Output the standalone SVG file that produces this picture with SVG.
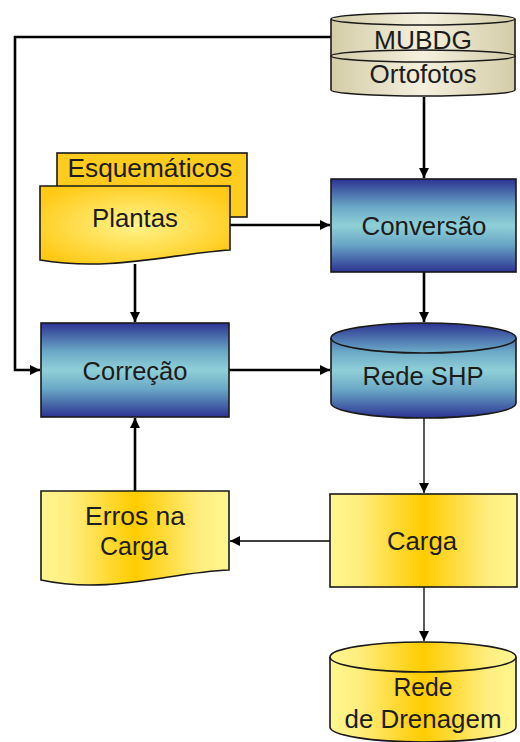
<svg xmlns="http://www.w3.org/2000/svg" width="520" height="742" viewBox="0 0 520 742">
<style>
.s{stroke:#1a1a1a;stroke-width:1.6}
.t{font-family:"Liberation Sans",Arial,sans-serif;font-size:25px;fill:#1c1c1c;text-anchor:middle}
.c{fill:none;stroke:#000}
.thick{stroke-width:2.6}
.thin{stroke-width:1.3}
</style>
<defs>
<linearGradient id="blue" x1="0" y1="0" x2="0" y2="1">
<stop offset="0" stop-color="#2c3392"/>
<stop offset="0.3" stop-color="#6aa8c6"/>
<stop offset="0.5" stop-color="#8fd0d7"/>
<stop offset="0.7" stop-color="#6aa8c6"/>
<stop offset="1" stop-color="#2c3392"/>
</linearGradient>
<linearGradient id="yel" x1="0" y1="0" x2="1" y2="0">
<stop offset="0" stop-color="#fff68e"/>
<stop offset="0.15" stop-color="#ffee80"/>
<stop offset="0.5" stop-color="#ffcc00"/>
<stop offset="0.85" stop-color="#ffee80"/>
<stop offset="1" stop-color="#fff68e"/>
</linearGradient>
<radialGradient id="gold" cx="0.5" cy="0.5" r="0.6">
<stop offset="0" stop-color="#fff48c"/>
<stop offset="1" stop-color="#ffc915"/>
</radialGradient>
<linearGradient id="beige" x1="0" y1="0" x2="1" y2="0">
<stop offset="0" stop-color="#d4cca8"/>
<stop offset="0.5" stop-color="#f4f0de"/>
<stop offset="1" stop-color="#d4cca8"/>
</linearGradient>
<marker id="ah" viewBox="0 0 10 10" refX="10" refY="5" markerWidth="10" markerHeight="10" markerUnits="userSpaceOnUse" orient="auto">
<path d="M0,0 L10,5 L0,10 Z" fill="#000"/>
</marker>
</defs>

<g id="connectors">
<path class="c thick" d="M331,37 H15 V370 H40" marker-end="url(#ah)"/>
<path class="c thick" d="M424,97 V178" marker-end="url(#ah)"/>
<path class="c thick" d="M230,225 H330" marker-end="url(#ah)"/>
<path class="c thick" d="M135,264 V322" marker-end="url(#ah)"/>
<path class="c thick" d="M424,272 V322" marker-end="url(#ah)"/>
<path class="c thick" d="M229,370 H330" marker-end="url(#ah)"/>
<path class="c thin" d="M424,418 V493" marker-end="url(#ah)"/>
<path class="c thin" d="M330,541 H230" marker-end="url(#ah)"/>
<path class="c thick" d="M135,491 V418" marker-end="url(#ah)"/>
<path class="c thin" d="M424,587 V641" marker-end="url(#ah)"/>
</g>

<g id="mubdg">
<path class="s" fill="url(#beige)" d="M331,19 A92,6 0 0,1 515,19 V56 A92,6 0 0,1 331,56 Z"/>
<path class="s" fill="none" d="M331,19 A92,6 0 0,0 515,19"/>
<text class="t" x="423" y="49" textLength="98" lengthAdjust="spacingAndGlyphs">MUBDG</text>
</g>
<g id="ortofotos">
<path class="s" fill="url(#beige)" d="M331,56 A92,6 0 0,1 515,56 V90 A92,6 0 0,1 331,90 Z"/>
<path class="s" fill="none" d="M331,56 A92,6 0 0,0 515,56"/>
<text class="t" x="423" y="83" textLength="107" lengthAdjust="spacingAndGlyphs">Ortofotos</text>
</g>

<g id="esquematicos">
<rect class="s" x="57" y="153" width="190" height="64" fill="#ffcb1f"/>
<text class="t" x="150" y="177" textLength="165" lengthAdjust="spacingAndGlyphs">Esquemáticos</text>
</g>
<g id="plantas">
<path class="s" fill="url(#gold)" d="M40,186 H230 V250 C170,254 110,272 40,260 Z"/>
<text class="t" x="135" y="227" textLength="86" lengthAdjust="spacingAndGlyphs">Plantas</text>
</g>

<g id="conversao">
<rect class="s" x="331" y="179" width="185" height="93" fill="url(#blue)"/>
<text class="t" x="424" y="235" textLength="125" lengthAdjust="spacingAndGlyphs">Conversão</text>
</g>

<g id="correcao">
<rect class="s" x="41" y="323" width="188" height="94" fill="url(#blue)"/>
<text class="t" x="135" y="380" textLength="105" lengthAdjust="spacingAndGlyphs">Correção</text>
</g>

<g id="redeshp">
<path class="s" fill="url(#blue)" d="M331,338 A92.5,15 0 0,1 516,338 V403 A92.5,15 0 0,1 331,403 Z"/>
<path class="s" fill="none" d="M331,338 A92.5,15 0 0,0 516,338"/>
<text class="t" x="423" y="385" textLength="121" lengthAdjust="spacingAndGlyphs">Rede SHP</text>
</g>

<g id="erros">
<path class="s" fill="url(#yel)" d="M41,491 H229 V570 C170,572 110,595 41,580 Z"/>
<text class="t" x="135" y="525" textLength="100" lengthAdjust="spacingAndGlyphs">Erros na</text>
<text class="t" x="134" y="555" textLength="68" lengthAdjust="spacingAndGlyphs">Carga</text>
</g>

<g id="carga">
<rect class="s" x="330" y="494" width="187" height="93" fill="url(#yel)"/>
<text class="t" x="422" y="550" textLength="70" lengthAdjust="spacingAndGlyphs">Carga</text>
</g>

<g id="drenagem">
<path class="s" fill="url(#yel)" d="M330,657 A93,15 0 0,1 516,657 V727 A93,15 0 0,1 330,727 Z"/>
<path class="s" fill="none" d="M330,657 A93,15 0 0,0 516,657"/>
<text class="t" x="423" y="696" textLength="59" lengthAdjust="spacingAndGlyphs">Rede</text>
<text class="t" x="423" y="728" textLength="157" lengthAdjust="spacingAndGlyphs">de Drenagem</text>
</g>
</svg>
